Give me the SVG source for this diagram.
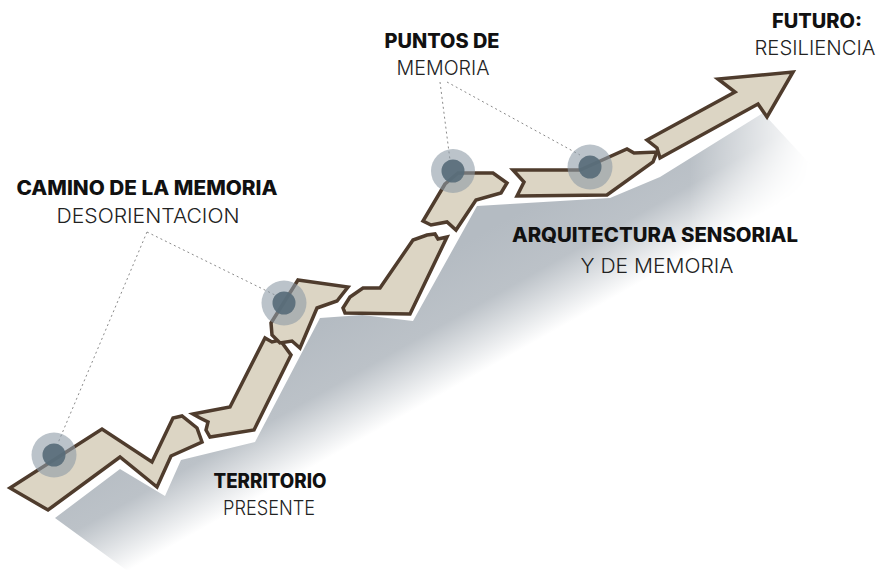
<svg xmlns="http://www.w3.org/2000/svg" width="880" height="580" viewBox="0 0 880 580">
<defs>
<style>
.seg{fill:#dcd5c4;stroke:#4f3c2d;stroke-width:3.5;stroke-linejoin:miter;stroke-miterlimit:6}
.ring{fill:#8e9ba6;fill-opacity:0.6}
.dot{fill:#586c79;fill-opacity:0.92}
.lead{fill:none;stroke:#8a8a8a;stroke-width:1;stroke-dasharray:2 3}
.b{font-family:Inter,"Open Sans","Liberation Sans",sans-serif;font-weight:800;font-size:19.5px;fill:#111;text-anchor:middle}
.l{font-family:Inter,"Open Sans","Liberation Sans",sans-serif;font-weight:300;font-size:20px;fill:#222;text-anchor:middle}
</style>
<linearGradient id="sh" gradientUnits="userSpaceOnUse" x1="380" y1="290" x2="470" y2="450">
<stop offset="0" stop-color="#b4bbc2"/>
<stop offset="0.33" stop-color="#bcc2c8"/>
<stop offset="0.66" stop-color="#ffffff"/>
</linearGradient>
<linearGradient id="mk" gradientUnits="userSpaceOnUse" x1="690" y1="0" x2="810" y2="0">
<stop offset="0" stop-color="#fff"/>
<stop offset="1" stop-color="#000"/>
</linearGradient>
<mask id="m"><rect x="0" y="0" width="880" height="580" fill="url(#mk)"/></mask>
</defs>
<rect width="880" height="580" fill="#ffffff"/>
<g id="shadow" mask="url(#m)">
<polygon fill="url(#sh)" points="55,518 120,469 165,496 181,460 255,442 320,318 362,315 413,321 477,206 510,204 610,198 660,177 763,113 880,240 880,580 140,580"/>
</g>
<g id="path">
<polygon class="seg" points="10,488 102,429 152,462 173,418 182,416 197,428 202,442 171,456 157,487 120,457 48,510"/>
<polygon class="seg" points="193,414 230,407 265,338 272,342 280,340 291,355 254,430 210,437 206,430 208,422 200,418"/>
<polygon class="seg" points="298,280 348,287 337,301 317,308 300,348 292,341 280,343 272,335 271,323"/>
<polygon class="seg" points="343,308 350,297 363,288 380,288 413,240 427,235 435,234 438,239 447,237 410,314 345,313"/>
<polygon class="seg" points="445,184 458,173 493,173 507,183 501,193 476,200 456,230 447,222 431,225 423,221"/>
<polygon class="seg" points="513,170 580,170 627,149 634,153 657,152 653,162 607,195 517,196 524,182"/>
<polygon class="seg" points="647,140 735,92 718,79 793,72 767,117 758,104 660,158 657,148"/>
</g>
<g id="connectors">
<line class="lead" x1="147" y1="232" x2="58" y2="443"/>
<line class="lead" x1="147" y1="232" x2="275" y2="295"/>
<line class="lead" x1="440" y1="82" x2="450" y2="160"/>
<line class="lead" x1="447" y1="82" x2="580" y2="155"/>
</g>
<g id="point1"><circle class="ring" cx="54" cy="455" r="22.5"/><circle class="dot" cx="54" cy="455" r="11.5"/></g>
<g id="point2"><circle class="ring" cx="284" cy="303" r="22.5"/><circle class="dot" cx="284" cy="303" r="11.5"/></g>
<g id="point3"><circle class="ring" cx="453" cy="171" r="22"/><circle class="dot" cx="453" cy="171" r="11.5"/></g>
<g id="point4"><circle class="ring" cx="590" cy="167" r="22.5"/><circle class="dot" cx="590" cy="167" r="11.5"/></g>
<g id="label-camino">
<text class="b" x="147" y="195" textLength="261" lengthAdjust="spacingAndGlyphs">CAMINO DE LA MEMORIA</text>
<text class="l" x="148" y="223" textLength="183" lengthAdjust="spacingAndGlyphs">DESORIENTACION</text>
</g>
<g id="label-puntos">
<text class="b" x="442" y="48" textLength="115" lengthAdjust="spacingAndGlyphs">PUNTOS DE</text>
<text class="l" x="443" y="75" textLength="93" lengthAdjust="spacingAndGlyphs">MEMORIA</text>
</g>
<g id="label-futuro">
<text class="b" x="817" y="28" textLength="90" lengthAdjust="spacingAndGlyphs">FUTURO:</text>
<text class="l" x="815" y="55" textLength="121" lengthAdjust="spacingAndGlyphs">RESILIENCIA</text>
</g>
<g id="label-arquitectura">
<text class="b" x="655" y="242" textLength="286" lengthAdjust="spacingAndGlyphs">ARQUITECTURA SENSORIAL</text>
<text class="l" x="657" y="273" textLength="153" lengthAdjust="spacingAndGlyphs">Y DE MEMORIA</text>
</g>
<g id="label-territorio">
<text class="b" x="270" y="488" textLength="113" lengthAdjust="spacingAndGlyphs">TERRITORIO</text>
<text class="l" x="269" y="515" textLength="92" lengthAdjust="spacingAndGlyphs">PRESENTE</text>
</g>
</svg>
